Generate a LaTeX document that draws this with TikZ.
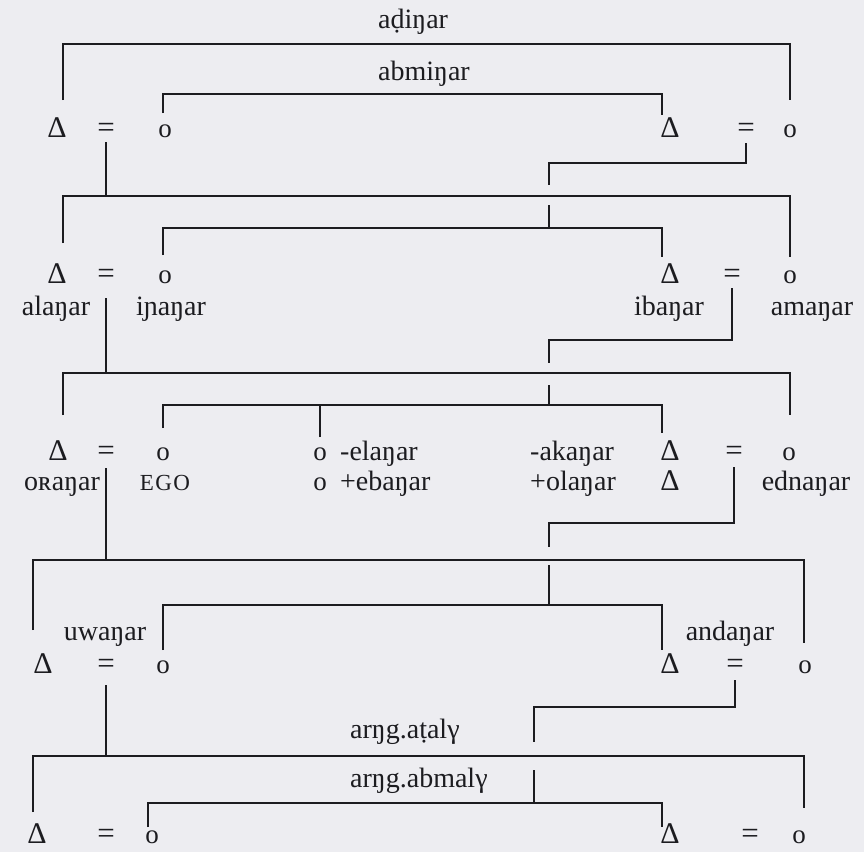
\documentclass[tikz,border=0pt]{standalone}
\usepackage{fontspec}
\setmainfont{Liberation Serif}
\usepackage{tikz}
\definecolor{paper}{RGB}{237,237,241}
\definecolor{ink}{RGB}{28,28,32}

\begin{document}
\begin{tikzpicture}[
    x=1pt, y=-1pt,
    sym/.style={inner sep=0pt, anchor=base, text=ink, font=\fontsize{27}{30}\selectfont},
    male/.style={sym, font=\fontsize{30}{34}\selectfont},
    marr/.style={sym, font=\fontsize{31}{34}\selectfont},
    kname/.style={inner sep=0pt, anchor=base, text=ink, font=\fontsize{28}{32}\selectfont},
    kin/.style={draw=ink, line width=1.6pt}
]
    \fill[paper] (0,0) rectangle (864,852);
    \useasboundingbox (0,0) rectangle (864,852);

    % Generation +2
    \node[male] (m1) at (57,137) {Δ};
    \node[marr] (e1) at (106,137) {=};
    \node[sym] (f1) at (165,137) {o};
    \node[male] (m2) at (670,137) {Δ};
    \node[marr] (e2) at (746,137) {=};
    \node[sym] (f2) at (790,137) {o};
    \node[kname, anchor=base west] (adi) at (378,28) {aḍiŋar};
    \node[kname, anchor=base west] (abmi) at (378,80) {abmiŋar};

    % Generation +1
    \node[male] (m3) at (57,283) {Δ};
    \node[marr] (e3) at (106,283) {=};
    \node[sym] (f3) at (165,283) {o};
    \node[male] (m4) at (670,283) {Δ};
    \node[marr] (e4) at (732,283) {=};
    \node[sym] (f4) at (790,283) {o};
    \node[kname] (ala) at (56,315) {alaŋar};
    \node[kname] (ina) at (171,315) {iɲaŋar};
    \node[kname] (iba) at (669,315) {ibaŋar};
    \node[kname] (ama) at (812,315) {amaŋar};

    % Generation 0
    \node[male] (m5) at (58,460) {Δ};
    \node[marr] (e5) at (106,460) {=};
    \node[sym] (f5) at (163,460) {o};
    \node[sym] (f6) at (320,460) {o};
    \node[sym] (f7) at (320,490) {o};
    \node[kname, anchor=base west] (ela) at (340,460) {-elaŋar};
    \node[kname, anchor=base west] (eba) at (340,490) {+ebaŋar};
    \node[kname, anchor=base west] (aka) at (530,460) {-akaŋar};
    \node[kname, anchor=base west] (ola) at (530,490) {+olaŋar};
    \node[male] (m6) at (670,460) {Δ};
    \node[male] (m7) at (670,490) {Δ};
    \node[marr] (e6) at (734,460) {=};
    \node[sym] (f8) at (789,460) {o};
    \node[kname] (ora) at (62,490) {oʀaŋar};
    \node[kname, font=\fontsize{23}{26}\selectfont\addfontfeatures{LetterSpace=6}] (ego) at (165,490) {EGO};
    \node[kname] (edna) at (806,490) {ednaŋar};

    % Generation -1
    \node[male] (m8) at (43,673) {Δ};
    \node[marr] (e7) at (106,673) {=};
    \node[sym] (f9) at (163,673) {o};
    \node[male] (m9) at (670,673) {Δ};
    \node[marr] (e8) at (735,673) {=};
    \node[sym] (f10) at (805,673) {o};
    \node[kname] (uwa) at (105,640) {uwaŋar};
    \node[kname] (anda) at (730,640) {andaŋar};

    % Generation -2
    \node[male] (m10) at (37,843) {Δ};
    \node[marr] (e9) at (106,843) {=};
    \node[sym] (f11) at (152,843) {o};
    \node[male] (m11) at (670,843) {Δ};
    \node[marr] (e10) at (750,843) {=};
    \node[sym] (f12) at (799,843) {o};
    \node[kname, anchor=base west] (ata) at (350,738) {arŋg.aṭalγ};
    \node[kname, anchor=base west] (abma) at (350,787) {arŋg.abmalγ};

    % Sibling links, generation +2
    \draw[kin] ([xshift=6pt,yshift=37pt]m1.base) -- ++(0,-56) -| ([yshift=37pt]f2.base);
    \draw[kin] ([xshift=-2pt,yshift=24pt]f1.base) -- ++(0,-19) -| ([xshift=-8pt,yshift=22pt]m2.base);

    % Descent to generation +1
    \draw[kin] ([yshift=-5pt]e1.base) -- ++(0,54);
    \draw[kin] ([xshift=6pt,yshift=40pt]m3.base) -- ++(0,-47) -| ([yshift=26pt]f4.base);
    \draw[kin] ([yshift=-6pt]e2.base) -- ++(0,20) -| ++(-197,22) ++(0,20) -- ++(0,23);
    \draw[kin] ([xshift=-2pt,yshift=28pt]f3.base) -- ++(0,-27) -| ([xshift=-8pt,yshift=26pt]m4.base);

    % Descent to generation 0
    \draw[kin] ([yshift=-15pt]e3.base) -- ++(0,75);
    \draw[kin] ([xshift=5pt,yshift=45pt]m5.base) -- ++(0,-42) -| ([xshift=1pt,yshift=45pt]f8.base);
    \draw[kin] ([yshift=-5pt]e4.base) -- ++(0,52) -| ++(-183,23) ++(0,22) -- ++(0,20);
    \draw[kin] ([yshift=32pt]f5.base) -- ++(0,-23) -| ([xshift=-8pt,yshift=27pt]m6.base);
    \draw[kin] ([yshift=23pt]f6.base) -- ++(0,-32);

    % Descent to generation -1
    \draw[kin] ([yshift=-8pt]e5.base) -- ++(0,92);
    \draw[kin] ([xshift=-10pt,yshift=43pt]m8.base) -- ++(0,-70) -| ([xshift=-1pt,yshift=30pt]f10.base);
    \draw[kin] ([yshift=-7pt]e6.base) -- ++(0,56) -| ++(-185,24) ++(0,18) -- ++(0,40);
    \draw[kin] ([yshift=23pt]f9.base) -- ++(0,-45) -| ([xshift=-8pt,yshift=23pt]m9.base);

    % Descent to generation -2
    \draw[kin] ([yshift=-12pt]e7.base) -- ++(0,71);
    \draw[kin] ([xshift=-4pt,yshift=31pt]m10.base) -- ++(0,-56) -| ([xshift=5pt,yshift=35pt]f12.base);
    \draw[kin] ([yshift=-7pt]e8.base) -- ++(0,27) -| ++(-201,35) ++(0,28) -- ++(0,33);
    \draw[kin] ([xshift=-4pt,yshift=16pt]f11.base) -- ++(0,-24) -| ([xshift=-8pt,yshift=16pt]m11.base);
\end{tikzpicture}
\end{document}
